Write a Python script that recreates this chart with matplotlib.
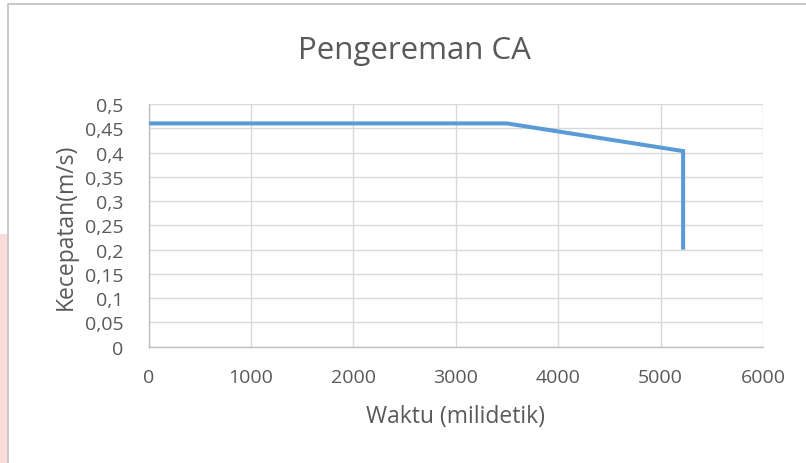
import matplotlib
matplotlib.use("Agg")
import matplotlib.pyplot as plt
from matplotlib.lines import Line2D
from matplotlib.patches import Rectangle
from matplotlib.ticker import FuncFormatter

# data
waktu = [0, 3500, 5220, 5220]
kecepatan = [0.46, 0.46, 0.403, 0.20]
x_ticks = [0, 1000, 2000, 3000, 4000, 5000, 6000]
y_ticks = [0, 0.05, 0.1, 0.15, 0.2, 0.25, 0.3, 0.35, 0.4, 0.45, 0.5]

plt.rcParams["font.family"] = ["Open Sans", "DejaVu Sans"]
text_c = "#595959"

fig = plt.figure(figsize=(8.06, 4.64), dpi=100)
fig.patch.set_facecolor("white")

# chart border (only top and left edges are visible) + pink watermark edge
fig.lines.append(Line2D([8 / 806, 8 / 806, 1.0], [0.0, 1 - 5 / 464, 1 - 5 / 464],
                        transform=fig.transFigure, color="#bfbfbf", linewidth=1.2))
fig.patches.append(Rectangle((0, 0), 7 / 806, 1 - 235 / 464,
                             transform=fig.transFigure, facecolor="#fbdcdc",
                             edgecolor="none"))

ax = fig.add_axes([148.5 / 806, 1 - 347.7 / 464, (763 - 148.5) / 806, (347.7 - 105) / 464])
ax.plot(waktu, kecepatan, color="#5b9bd5", linewidth=2.9, solid_joinstyle="miter",
        solid_capstyle="butt", zorder=3)

ax.set_xlim(0, 6000)
ax.set_ylim(0, 0.5)
ax.set_xticks(x_ticks)
ax.set_yticks(y_ticks)
ax.yaxis.set_major_formatter(FuncFormatter(lambda v, p: f"{v:g}".replace(".", ",")))
ax.tick_params(length=0, labelsize=14, labelcolor=text_c)
ax.tick_params(axis="x", pad=15)
ax.tick_params(axis="y", pad=18)

ax.grid(True, color="#d9d9d9", linewidth=1.0)
ax.set_axisbelow(True)
for s in ["top", "right"]:
    ax.spines[s].set_visible(False)
for s in ["left", "bottom"]:
    ax.spines[s].set_color("#bfbfbf")
    ax.spines[s].set_linewidth(1.0)

ax.set_xlabel("Waktu (milidetik)", fontsize=16.5, color=text_c, labelpad=13)
ax.set_ylabel("Kecepatan(m/s)", fontsize=16.5, color=text_c, labelpad=5)
fig.text(414 / 806, 1 - 51 / 464, "Pengereman CA", fontsize=22.5, color=text_c,
         ha="center", va="center")

fig.savefig("out.png", dpi=100, facecolor="white")
